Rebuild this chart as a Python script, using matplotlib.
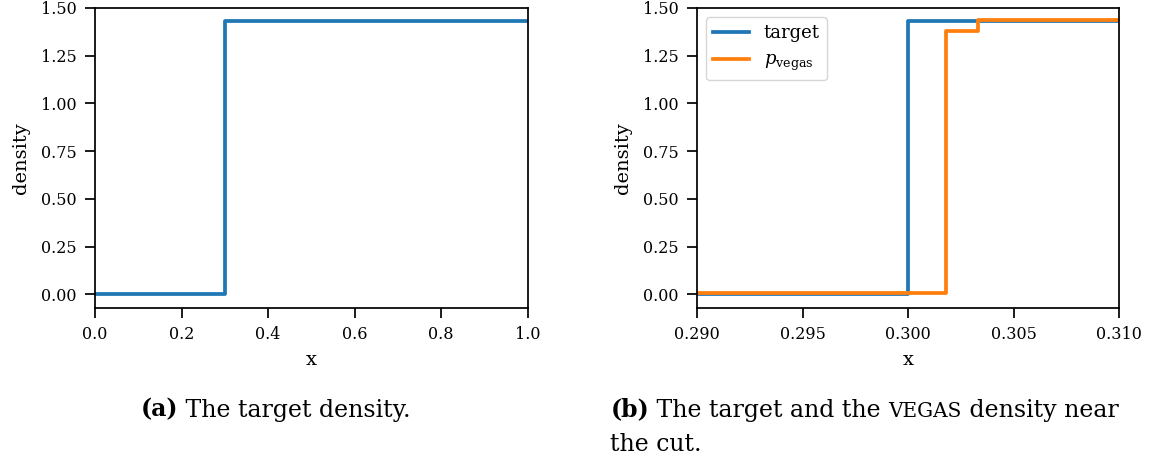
import matplotlib
matplotlib.use('Agg')
import matplotlib.pyplot as plt
from matplotlib.transforms import offset_copy

# data
target_x = [0.0, 0.3, 1.0]
target_y = [0.0, 1.43, 1.43]
vegas_x = [0.29, 0.3018, 0.3033, 0.31]
vegas_y = [0.008, 1.38, 1.435, 1.435]

plt.rcParams['font.family'] = 'DejaVu Serif'
plt.rcParams['mathtext.fontset'] = 'dejavuserif'
plt.rcParams['axes.linewidth'] = 1.25

fig = plt.figure(figsize=(11.54, 4.63), dpi=100)
ax1 = fig.add_axes([0.0823, 0.335, 0.375, 0.648])
ax2 = fig.add_axes([0.604, 0.335, 0.366, 0.648])
blue, orange = '#1f77b4', '#ff7f0e'
lw = 2.7

ax1.step(target_x, target_y, where='post', color=blue, lw=lw)
ax1.set_xlim(0, 1)

ax2.step(target_x, target_y, where='post', color=blue, lw=lw, label='target')
ax2.step(vegas_x, vegas_y, where='post', color=orange, lw=lw, label=r'$p_{\mathrm{vegas}}$')
ax2.set_xlim(0.29, 0.31)
ax2.set_xticks([0.29, 0.295, 0.30, 0.305, 0.31])
ax2.set_xticklabels(['0.290', '0.295', '0.300', '0.305', '0.310'])
ax2.legend(loc='upper left', fontsize=13, handlelength=2.0)

for ax in (ax1, ax2):
    ax.set_ylim(-0.0715, 1.5)
    ax.set_yticks([0, 0.25, 0.5, 0.75, 1.0, 1.25, 1.5])
    ax.set_yticklabels(['0.00', '0.25', '0.50', '0.75', '1.00', '1.25', '1.50'])
    ax.tick_params(labelsize=11.5, length=7, width=1.25, pad=6)
    ax.set_xlabel('x', fontsize=14, labelpad=6)
    ax.set_ylabel('density', fontsize=14, labelpad=8)

# captions built from pieces so bold / small caps parts can sit inline
def caption(pieces, x, y):
    fig.canvas.draw()
    r = fig.canvas.get_renderer()
    tr = fig.transFigure
    for txt, kw in pieces:
        t = fig.text(x, y, txt, transform=tr, va='baseline', **kw)
        w = t.get_window_extent(r).width
        tr = offset_copy(tr, fig=fig, x=w, units='dots')

cs = 17
caption([('(a)', dict(fontsize=cs, weight='bold')),
         (' The target density.', dict(fontsize=cs))], 0.122, 0.1)
caption([('(b)', dict(fontsize=cs, weight='bold')),
         (' The target and the ', dict(fontsize=cs)),
         ('VEGAS', dict(fontsize=cs * 0.85)),
         (' density near', dict(fontsize=cs))], 0.529, 0.1)
fig.text(0.529, 0.025, 'the cut.', fontsize=cs, va='baseline')

fig.savefig('out.png', dpi=100)
